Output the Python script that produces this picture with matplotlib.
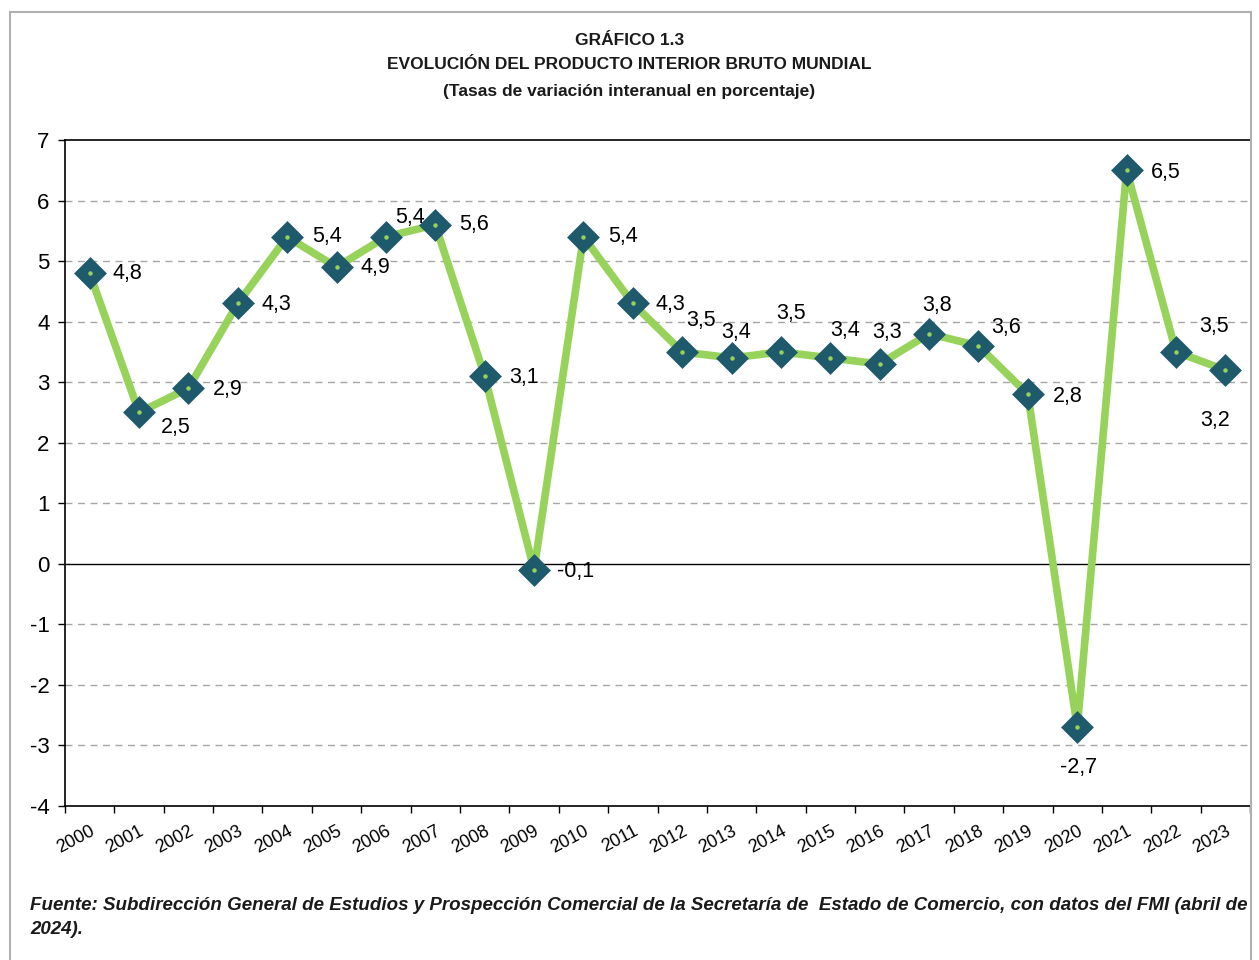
"""GRÁFICO 1.3 - Evolución del PIB mundial (tasas de variación interanual)."""
import matplotlib
matplotlib.use("Agg")
import matplotlib.pyplot as plt
from matplotlib.patches import Rectangle

years = [str(y) for y in range(2000, 2024)]
growth = [4.8, 2.5, 2.9, 4.3, 5.4, 4.9, 5.4, 5.6, 3.1, -0.1, 5.4, 4.3,
          3.5, 3.4, 3.5, 3.4, 3.3, 3.8, 3.6, 2.8, -2.7, 6.5, 3.5, 3.2]

# label centre offsets in pixels (dx, dy) from each marker
label_offsets = [(38, 0), (37, -15), (39, -1), (39, -1), (40, 0), (39, 0),
                 (24, 19), (39, 0), (39, -1), (41, -2), (40, 0), (38, -1),
                 (19, 31), (5, 25), (10, 38), (15, 27), (7, 32), (8, 28),
                 (28, 18), (40, -2), (1, -40), (39, -2), (38, 25), (-10, -50)]

GREEN = "#97D35A"
TEAL = "#1E5A6B"

plt.rcParams["font.family"] = ["Liberation Sans", "DejaVu Sans"]

fig = plt.figure(figsize=(12.59, 9.6), dpi=100)
ax = fig.add_axes([0.0516, 0.1604, 0.9413, 0.6938])

x = range(len(years))
ax.plot(x, growth, color=GREEN, lw=5.5, zorder=3, solid_joinstyle="round")
ax.plot(x, growth, ls="none", marker="D", ms=13, mfc=TEAL, mec=TEAL, mew=3.5,
        zorder=4)
for xi, v in zip(x, growth):
    ax.plot(xi, v, ls="none", marker="o", ms=2.2, color=GREEN, zorder=5)

for xi, v, (dx, dy) in zip(x, growth, label_offsets):
    ax.annotate(f"{v:.1f}".replace(".", ","), (xi, v), xytext=(dx, dy),
                textcoords="offset pixels", fontsize=15.5, va="center",
                ha="center", zorder=6)

ax.set_xlim(-0.5, len(years) - 0.5)
ax.set_ylim(-4, 7)
ax.set_yticks(range(-4, 8))
ax.set_yticklabels([str(t) for t in range(-4, 8)], fontsize=16)
ax.set_xticks(x)
ax.set_xticklabels(years, rotation=28, ha="right", rotation_mode="anchor",
                   fontsize=13)
ax.set_xticks([i - 0.5 for i in range(len(years) + 1)], minor=True)
ax.tick_params(axis="x", which="major", length=0, pad=12)
ax.tick_params(axis="x", which="minor", length=5, width=1, direction="out")
ax.tick_params(axis="y", length=5, width=1, direction="out", pad=6)

for t in range(-3, 7):
    if t == 0:
        ax.axhline(0, color="black", lw=1, zorder=2)
    else:
        ax.axhline(t, color="#A6A6A6", lw=1, ls=(0, (5, 4)), zorder=1)

for side in ["left", "bottom", "top"]:
    ax.spines[side].set_color("black")
    ax.spines[side].set_linewidth(1.2)
ax.spines["right"].set_visible(False)

title_kw = dict(ha="center", va="center", fontsize=12.5, fontweight="bold",
                color="#1A1A1A")
fig.text(0.5, 0.958, "GRÁFICO 1.3", **title_kw)
fig.text(0.5, 0.933, "EVOLUCIÓN DEL PRODUCTO INTERIOR BRUTO MUNDIAL", **title_kw)
fig.text(0.5, 0.905, "(Tasas de variación interanual en porcentaje)", **title_kw)

foot_kw = dict(va="center", fontsize=13.5, fontweight="bold", style="italic",
               color="#1A1A1A")
fig.text(0.024, 0.0565,
         "Fuente: Subdirección General de Estudios y Prospección Comercial de la "
         "Secretaría de  Estado de Comercio, con datos del FMI (abril de",
         **foot_kw)
fig.text(0.024, 0.0315, "2024).", **foot_kw)

fig.patches.append(Rectangle((0.008, -0.05), 0.986, 1.037,
                             transform=fig.transFigure, fill=False,
                             edgecolor="#B0B0B0", lw=1.5))

fig.savefig("out.png", dpi=100)
